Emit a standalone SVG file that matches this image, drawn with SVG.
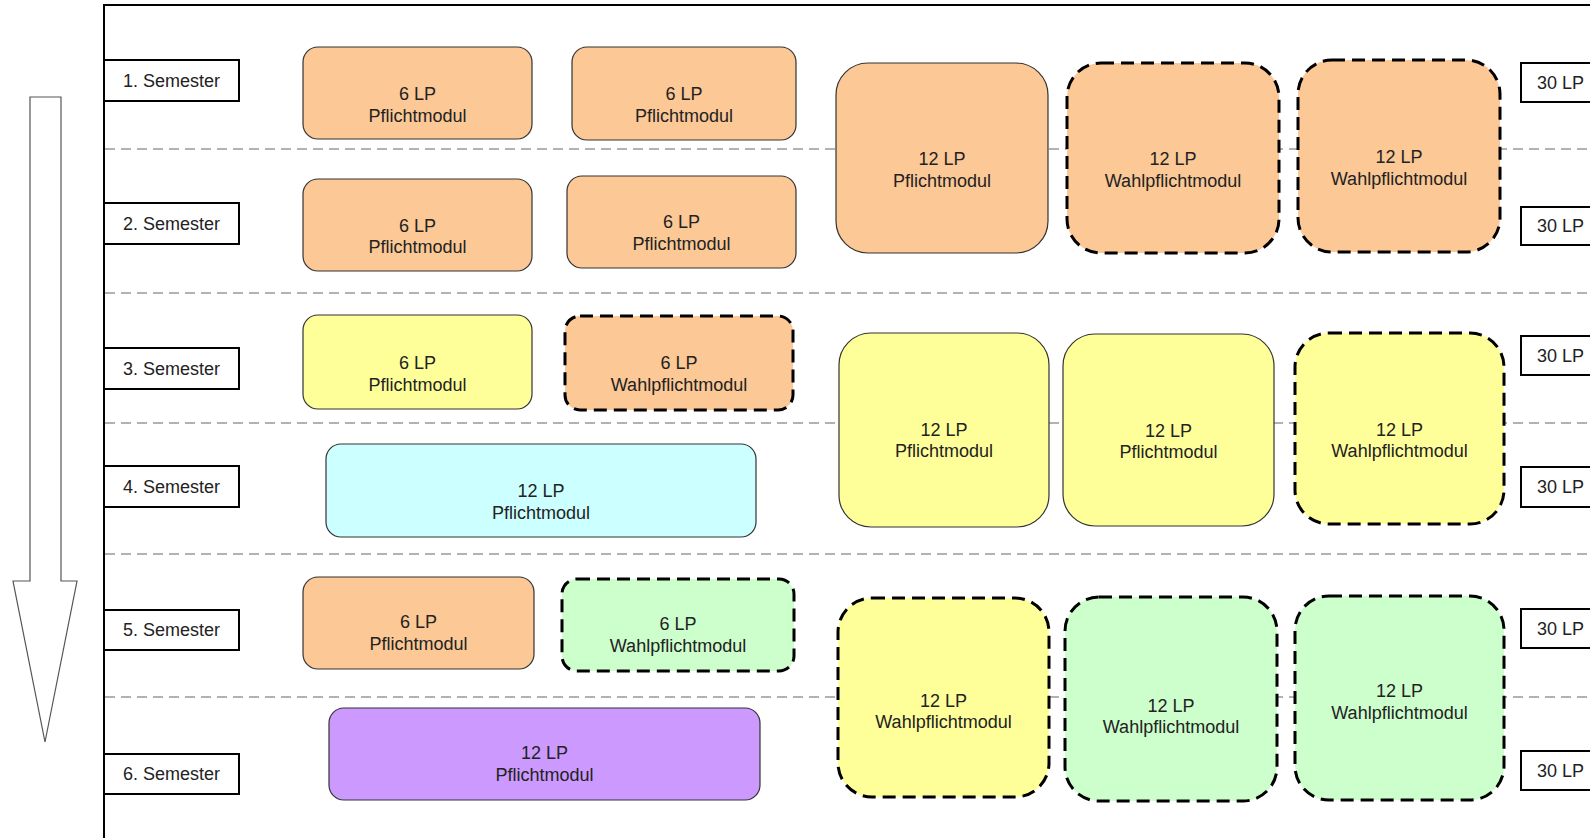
<svg xmlns="http://www.w3.org/2000/svg" width="1590" height="838" viewBox="0 0 1590 838">
<style>
text{font-family:"Liberation Sans",Arial,sans-serif;font-size:18px;fill:#222;text-anchor:middle}
.sep{stroke:#999;stroke-width:1.6;stroke-dasharray:10 6;fill:none}
.lbl{fill:#fff;stroke:#000;stroke-width:2}
.solid{stroke:#333;stroke-width:1.2}
.dash{stroke:#000;stroke-width:3;stroke-dasharray:13 7}
.or{fill:#FBC896}
.ye{fill:#FFFF99}
.cy{fill:#CCFFFF}
.gr{fill:#CCFFCC}
.pu{fill:#CC99FF}
.lp{text-anchor:start}
</style>
<rect width="1590" height="838" fill="#fff"/>
<g id="arrow">
<polygon points="30,97 61,97 61,581 77,581 45,742 13,581 30,581" fill="#fff" stroke="#555" stroke-width="1.2"/>
</g>
<g id="separators">
<line class="sep" x1="105" y1="149" x2="1590" y2="149"/>
<line class="sep" x1="105" y1="293" x2="1590" y2="293"/>
<line class="sep" x1="105" y1="423" x2="1590" y2="423"/>
<line class="sep" x1="105" y1="554" x2="1590" y2="554"/>
<line class="sep" x1="105" y1="697" x2="1590" y2="697"/>
</g>
<g id="frame">
<path d="M104,838 V5 H1592" fill="none" stroke="#000" stroke-width="2"/>
</g>
<g id="semesters">
<g id="sem1"><rect class="lbl" x="104" y="60" width="135" height="41"/><text x="171.5" y="87">1. Semester</text></g>
<g id="sem2"><rect class="lbl" x="104" y="203" width="135" height="41"/><text x="171.5" y="230">2. Semester</text></g>
<g id="sem3"><rect class="lbl" x="104" y="348" width="135" height="41"/><text x="171.5" y="375">3. Semester</text></g>
<g id="sem4"><rect class="lbl" x="104" y="466" width="135" height="41"/><text x="171.5" y="493">4. Semester</text></g>
<g id="sem5"><rect class="lbl" x="104" y="610" width="135" height="40"/><text x="171.5" y="636">5. Semester</text></g>
<g id="sem6"><rect class="lbl" x="104" y="754" width="135" height="40"/><text x="171.5" y="780">6. Semester</text></g>
</g>
<g id="totals">
<g id="lp1"><rect class="lbl" x="1521" y="63" width="80" height="39"/><text class="lp" x="1537" y="89">30 LP</text></g>
<g id="lp2"><rect class="lbl" x="1521" y="207" width="80" height="38"/><text class="lp" x="1537" y="232">30 LP</text></g>
<g id="lp3"><rect class="lbl" x="1521" y="336" width="80" height="39"/><text class="lp" x="1537" y="362">30 LP</text></g>
<g id="lp4"><rect class="lbl" x="1521" y="467" width="80" height="40"/><text class="lp" x="1537" y="493">30 LP</text></g>
<g id="lp5"><rect class="lbl" x="1521" y="609" width="80" height="39"/><text class="lp" x="1537" y="635">30 LP</text></g>
<g id="lp6"><rect class="lbl" x="1521" y="751" width="80" height="39"/><text class="lp" x="1537" y="777">30 LP</text></g>
</g>
<g id="m1a"><rect class="or solid" x="303" y="47" width="229" height="92" rx="15"/><text x="417.5" y="100">6 LP</text><text x="417.5" y="122">Pflichtmodul</text></g>
<g id="m1b"><rect class="or solid" x="572" y="47" width="224" height="93" rx="15"/><text x="684" y="100">6 LP</text><text x="684" y="122">Pflichtmodul</text></g>
<g id="m2a"><rect class="or solid" x="303" y="179" width="229" height="92" rx="15"/><text x="417.5" y="232">6 LP</text><text x="417.5" y="253">Pflichtmodul</text></g>
<g id="m2b"><rect class="or solid" x="567" y="176" width="229" height="92" rx="15"/><text x="681.5" y="228">6 LP</text><text x="681.5" y="250">Pflichtmodul</text></g>
<g id="m12a"><rect class="or solid" x="836" y="63" width="212" height="190" rx="32"/><text x="942" y="165">12 LP</text><text x="942" y="187">Pflichtmodul</text></g>
<g id="m12b"><rect class="or dash" x="1067" y="63" width="212" height="190" rx="34"/><text x="1173" y="165">12 LP</text><text x="1173" y="187">Wahlpflichtmodul</text></g>
<g id="m12c"><rect class="or dash" x="1298" y="60" width="202" height="192" rx="34"/><text x="1399" y="163">12 LP</text><text x="1399" y="185">Wahlpflichtmodul</text></g>
<g id="m3a"><rect class="ye solid" x="303" y="315" width="229" height="94" rx="15"/><text x="417.5" y="369">6 LP</text><text x="417.5" y="391">Pflichtmodul</text></g>
<g id="m3b"><rect class="or dash" x="565" y="316" width="228" height="94" rx="15"/><text x="679" y="369">6 LP</text><text x="679" y="391">Wahlpflichtmodul</text></g>
<g id="m4a"><rect class="cy solid" x="326" y="444" width="430" height="93" rx="15"/><text x="541" y="497">12 LP</text><text x="541" y="519">Pflichtmodul</text></g>
<g id="m34a"><rect class="ye solid" x="839" y="333" width="210" height="194" rx="32"/><text x="944" y="436">12 LP</text><text x="944" y="457">Pflichtmodul</text></g>
<g id="m34b"><rect class="ye solid" x="1063" y="334" width="211" height="192" rx="32"/><text x="1168.5" y="437">12 LP</text><text x="1168.5" y="458">Pflichtmodul</text></g>
<g id="m34c"><rect class="ye dash" x="1295" y="333" width="209" height="191" rx="34"/><text x="1399.5" y="436">12 LP</text><text x="1399.5" y="457">Wahlpflichtmodul</text></g>
<g id="m5a"><rect class="or solid" x="303" y="577" width="231" height="92" rx="15"/><text x="418.5" y="628">6 LP</text><text x="418.5" y="650">Pflichtmodul</text></g>
<g id="m5b"><rect class="gr dash" x="562" y="579" width="232" height="92" rx="15"/><text x="678" y="630">6 LP</text><text x="678" y="652">Wahlpflichtmodul</text></g>
<g id="m6a"><rect class="pu solid" x="329" y="708" width="431" height="92" rx="15"/><text x="544.5" y="759">12 LP</text><text x="544.5" y="781">Pflichtmodul</text></g>
<g id="m56a"><rect class="ye dash" x="838" y="598" width="211" height="199" rx="34"/><text x="943.5" y="707">12 LP</text><text x="943.5" y="728">Wahlpflichtmodul</text></g>
<g id="m56b"><rect class="gr dash" x="1065" y="597" width="212" height="204" rx="34"/><text x="1171" y="712">12 LP</text><text x="1171" y="733">Wahlpflichtmodul</text></g>
<g id="m56c"><rect class="gr dash" x="1295" y="596" width="209" height="204" rx="34"/><text x="1399.5" y="697">12 LP</text><text x="1399.5" y="719">Wahlpflichtmodul</text></g>
</svg>
